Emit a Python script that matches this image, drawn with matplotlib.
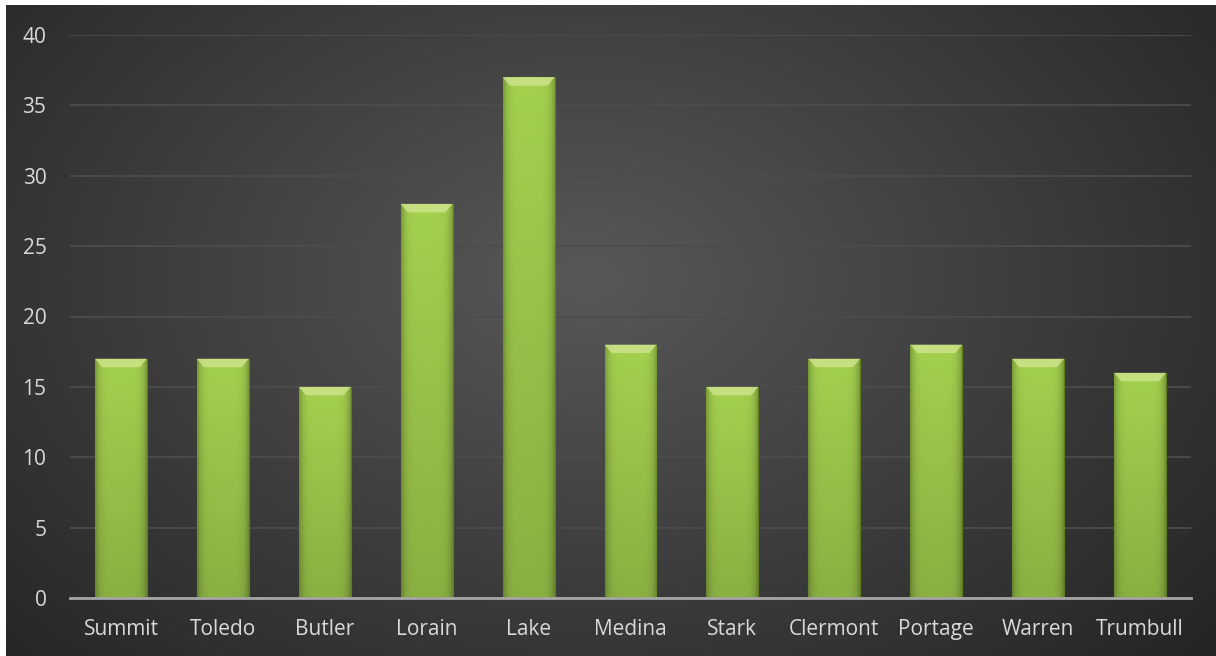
import matplotlib
matplotlib.use("Agg")
import matplotlib.pyplot as plt
import numpy as np

#%%data
counties = ["Summit", "Toledo", "Butler", "Lorain", "Lake", "Medina",
            "Stark", "Clermont", "Portage", "Warren", "Trumbull"]
values = [17, 17, 15, 28, 37, 18, 15, 17, 18, 17, 16]
yticks = [0, 5, 10, 15, 20, 25, 30, 35, 40]

plt.rcParams["font.family"] = ["Open Sans", "DejaVu Sans"]

W, H = 1216, 656
fig = plt.figure(figsize=(W / 100, H / 100), dpi=100, facecolor="white")

#%%background panel with radial gradient
bg = fig.add_axes([6 / W, 0, 1 - 6 / W, 1 - 5 / H])
bg.set_axis_off()
yy, xx = np.mgrid[0:1:300j, 0:1:600j]
r = np.sqrt(((xx - 0.48) / 0.75) ** 2 + ((yy - 0.58) / 0.95) ** 2)
shade = np.clip(0.345 - 0.22 * r, 0.12, 0.345)
bg.imshow(np.dstack([shade] * 3), extent=(0, 1, 0, 1), aspect="auto", origin="lower")

#%%chart
ax = fig.add_axes([70 / W, 58 / H, (1191 - 70) / W, (598 - 35) / H])
ax.patch.set_alpha(0)
x = np.arange(len(counties))
bw = 0.51
ax.set_xlim(-0.5, len(counties) - 0.5)
ax.set_ylim(0, 40)
ax.set_yticks(yticks)
ax.set_xticks(x)
ax.set_xticklabels(counties)
ax.grid(axis="y", color="#4c4c4c", lw=1.3, zorder=0)
for s in ["top", "right", "left"]:
    ax.spines[s].set_visible(False)
ax.spines["bottom"].set_color("#a6a6a6")
ax.spines["bottom"].set_linewidth(2)
ax.spines["bottom"].set_zorder(5)
ax.tick_params(length=0, colors="#d9d9d9", labelsize=15)
ax.tick_params(axis="y", pad=17)
ax.tick_params(axis="x", pad=15)

bars = ax.bar(x, values, width=bw, color="#9cc545", edgecolor="#5f7d1e", lw=0.8, zorder=2)

# bevelled gradient fill for each bar
hprof = np.linspace(-1, 1, 60)
hs = 1 - 0.25 * np.abs(hprof) ** 6
base = np.array([0.63, 0.80, 0.30])
for b, v in zip(bars, values):
    x0 = b.get_x()
    vs = np.linspace(0.86, 1.02, 100)[:, None]
    img = base[None, None, :] * hs[None, :, None] * vs[:, :, None]
    im = ax.imshow(np.clip(img, 0, 1), extent=(x0, x0 + bw, 0, v), aspect="auto",
                   origin="lower", zorder=3)
    im.set_clip_path(b)
    # top bevel
    bev = 0.6
    ax.fill([x0, x0 + bw, x0 + bw - 0.07, x0 + 0.07], [v, v, v - bev, v - bev],
            color="#cfe58f", alpha=0.8, lw=0, zorder=4)

plt.savefig("out.png", dpi=100, facecolor=fig.get_facecolor())
